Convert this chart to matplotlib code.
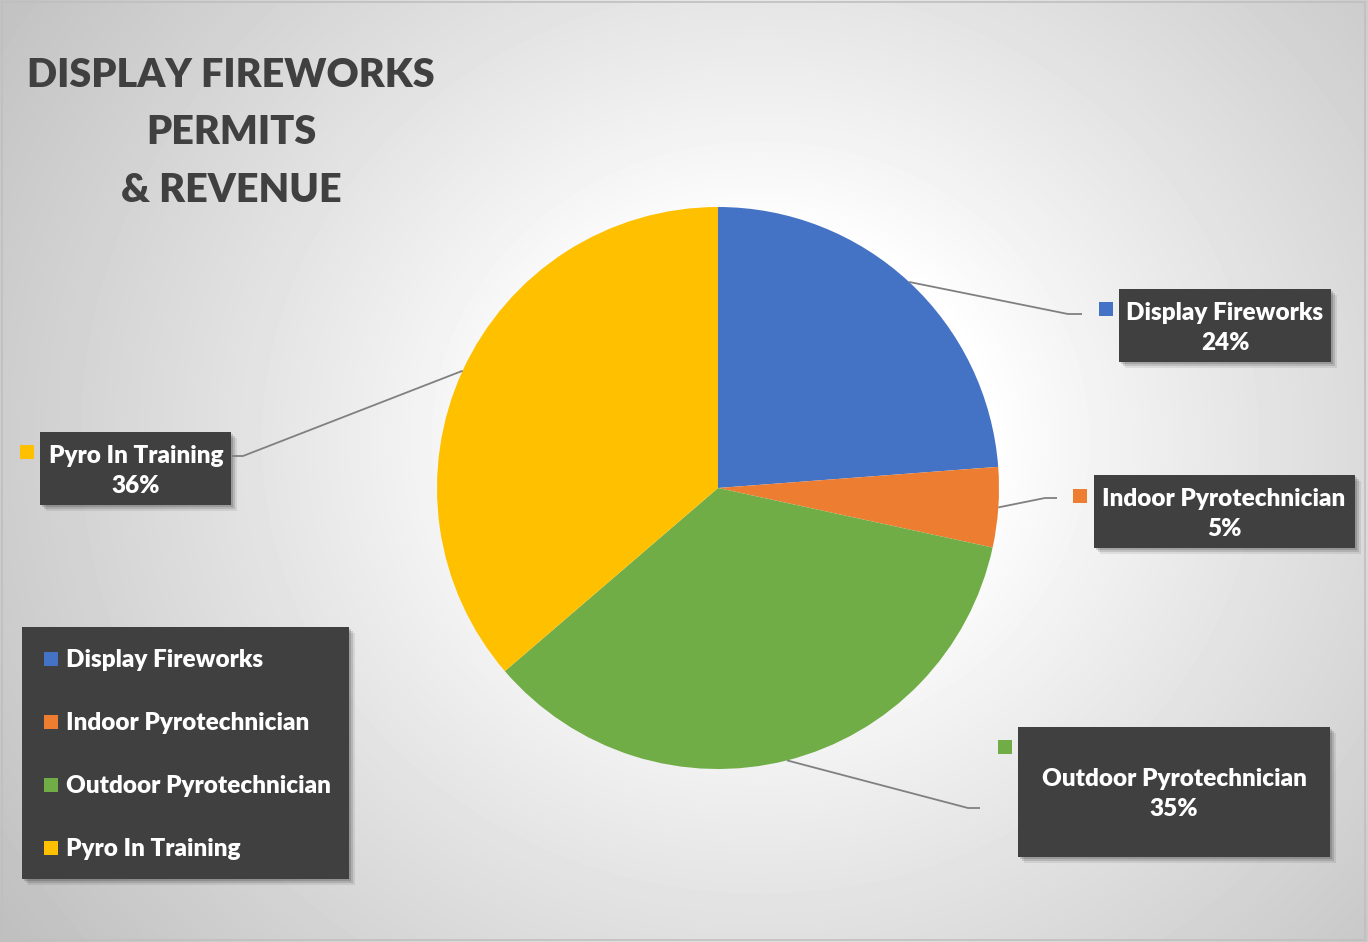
import numpy as np
import matplotlib
matplotlib.use("Agg")
import matplotlib.pyplot as plt
from matplotlib.patches import Rectangle

categories = ["Display Fireworks", "Indoor Pyrotechnician", "Outdoor Pyrotechnician", "Pyro In Training"]
values = [23.8, 4.6, 35.3, 36.3]
pct_labels = ["24%", "5%", "35%", "36%"]
colors = ["#4472C4", "#ED7D31", "#70AD47", "#FFC000"]
title = "DISPLAY FIREWORKS\nPERMITS\n& REVENUE"

W, H = 1368, 942
FONT = ["Lato", "DejaVu Sans"]
WEIGHT = 800
fig = plt.figure(figsize=(W / 100, H / 100), dpi=100)

# background gradient
bg = fig.add_axes([0, 0, 1, 1], zorder=0)
yy, xx = np.mgrid[0:H, 0:W]
d = np.hypot(xx - 760, (yy - 440) * 1.1)
t = np.clip((d - 230) / 700, 0, 1)
v = 1.0 - 0.25 * t ** 0.9
bg.imshow(v, cmap="gray", vmin=0, vmax=1, extent=[0, W, H, 0], aspect="auto", interpolation="bilinear")
bg.set_xlim(0, W); bg.set_ylim(H, 0); bg.axis("off")

# pie
cx, cy, R = 718, 488, 281
pax = fig.add_axes([(cx - R) / W, (H - cy - R) / H, 2 * R / W, 2 * R / H], zorder=1)
wedges, _ = pax.pie(values, colors=colors, startangle=90, counterclock=False, radius=1,
                    wedgeprops=dict(linewidth=0))
pax.set_xlim(-1, 1); pax.set_ylim(-1, 1); pax.axis("off")

ov = fig.add_axes([0, 0, 1, 1], zorder=2)
ov.set_xlim(0, W); ov.set_ylim(H, 0); ov.axis("off")
ov.patch.set_alpha(0)

# border
ov.add_patch(Rectangle((2, 2), W - 5, H - 4, fill=False, edgecolor="#bfbfbf", lw=1.2))

# title
ov.text(231, 133, title, ha="center", va="center", fontsize=28.5, fontweight=WEIGHT,
        color="#404040", family=FONT, linespacing=1.69)

def box(x0, y0, x1, y1):
    for k, a in [(6, 0.08), (4, 0.12), (2, 0.15)]:
        ov.add_patch(Rectangle((x0 + k, y0 + k), x1 - x0, y1 - y0, facecolor="black", alpha=a, lw=0))
    ov.add_patch(Rectangle((x0, y0), x1 - x0, y1 - y0, facecolor="#404040", lw=0))

# data labels: box (x0,y0,x1,y1), marker pos, text center x, text center y, leader elbow/end
label_layout = [
    dict(box=(1119, 289, 1331, 362), mk=(1099, 302), tx=1225, ty=328, elbow=(1068, 314), end=(1082, 314)),
    dict(box=(1094, 475, 1355, 548), mk=(1073, 489), tx=1224, ty=514, elbow=(1045, 498), end=(1057, 498)),
    dict(box=(1018, 727, 1330, 857), mk=(998, 740), tx=1174, ty=794, elbow=(968, 808), end=(980, 808)),
    dict(box=(40, 432, 231, 505), mk=(20, 445), tx=136, ty=471, elbow=(243, 456), end=(232, 456)),
]

cum = np.cumsum([0] + values)
total = sum(values)
for i, lay in enumerate(label_layout):
    mid = 90 - 360 * (cum[i] + values[i] / 2) / total
    sx = cx + R * np.cos(np.radians(mid))
    sy = cy - R * np.sin(np.radians(mid))
    ov.plot([sx, lay["elbow"][0], lay["end"][0]], [sy, lay["elbow"][1], lay["end"][1]],
            color="#808080", lw=1.3, solid_capstyle="butt")
    box(*lay["box"])
    ov.add_patch(Rectangle(lay["mk"], 14, 14, facecolor=colors[i], lw=0))
    ov.text(lay["tx"], lay["ty"], categories[i] + "\n" + pct_labels[i], ha="center", va="center",
            fontsize=17.5, fontweight=WEIGHT, color="white", family=FONT, linespacing=1.45)

# legend
box(22, 627, 349, 879)
for i, c in enumerate(categories):
    y = 660 + 63 * i
    ov.add_patch(Rectangle((44, y - 8), 14, 14, facecolor=colors[i], lw=0))
    ov.text(66, y, c, ha="left", va="center", fontsize=17.5, fontweight=WEIGHT, color="white", family=FONT)

fig.savefig("out.png", dpi=100)
